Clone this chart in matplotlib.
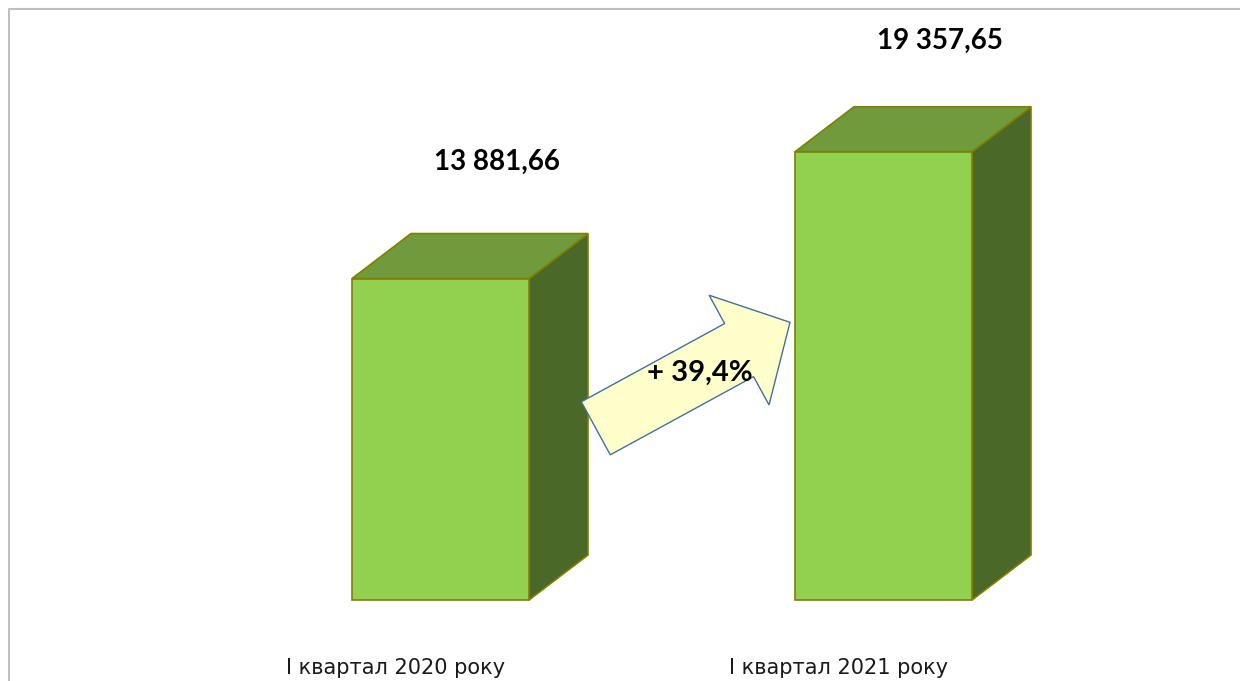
import matplotlib
matplotlib.use('Agg')
import matplotlib.pyplot as plt
from matplotlib.patches import Polygon, Rectangle, FancyArrow

plt.rcParams['font.family'] = ['Lato', 'DejaVu Sans']

# Data
categories = ['І квартал 2020 року', 'І квартал 2021 року']
values = [13881.66, 19357.65]
value_labels = ['13 881,66', '19 357,65']
growth_label = '+ 39,4%'

# Colours
front_col = '#92D050'
top_col = '#6F9B3C'
side_col = '#4A6828'
edge_col = '#808000'

W, H = 1240, 681
fig = plt.figure(figsize=(W / 100, H / 100), dpi=100)
ax = fig.add_axes([0, 0, 1, 1])

# Layout in pixels -> axis units
x0_px = 440.5      # centre of first bar front face
step_px = 443.0    # distance between bar centres
base_px = 81.0     # floor height above figure bottom
scale = 0.023155   # pixels per value unit
bar_w = 177 / step_px
depth_x = 59 / step_px
depth_y = 45 / scale

ax.set_xlim(-x0_px / step_px, (W - x0_px) / step_px)
ax.set_ylim(-base_px / scale, (H - base_px) / scale)
ax.axis('off')

# 3D-looking columns
for i, v in enumerate(values):
    left = i - bar_w / 2
    right = i + bar_w / 2
    side = Polygon([(right, 0), (right + depth_x, depth_y),
                    (right + depth_x, v + depth_y), (right, v)],
                   closed=True, fc=side_col, ec=edge_col, lw=1.2)
    top = Polygon([(left, v), (right, v), (right + depth_x, v + depth_y),
                   (left + depth_x, v + depth_y)],
                  closed=True, fc=top_col, ec=edge_col, lw=1.2)
    front = Rectangle((left, 0), bar_w, v, fc=front_col, ec=edge_col,
                      lw=1.2)
    ax.add_patch(side)
    ax.add_patch(top)
    ax.add_patch(front)

# Value labels above the columns
label_off = [64, 58]  # px above the back edge
for i, v in enumerate(values):
    ax.annotate(value_labels[i], xy=(i + depth_x * 0.95, v + depth_y),
                xytext=(0, label_off[i] * 0.72), textcoords='offset points',
                ha='center', va='baseline', fontsize=20, fontweight='bold')

# Category labels under the columns
for i, c in enumerate(categories):
    ax.text(i - 45 / step_px, -68 / scale, c, ha='center', va='center',
            fontsize=15, family='DejaVu Sans', color='#1a1a1a')

# Overlay in pixel units for arrow and frame
ov = fig.add_axes([0, 0, 1, 1], zorder=3)
ov.set_xlim(0, W)
ov.set_ylim(H, 0)
ov.axis('off')
ov.patch.set_alpha(0)

arrow = FancyArrow(595.8, 428.3, 194.2, -106, width=60.4, head_width=125,
                   head_length=58, length_includes_head=True,
                   fc='#FFFFCC', ec='#41719C', lw=1)
ov.add_patch(arrow)
ov.text(700, 373, growth_label, ha='center', va='center', fontsize=21,
        fontweight='bold')

ov.plot([8.5, 8.5, W], [H, 8.5, 8.5], color='#BFBFBF', lw=1.5,
        solid_capstyle='butt')

fig.savefig('out.png', dpi=100)
